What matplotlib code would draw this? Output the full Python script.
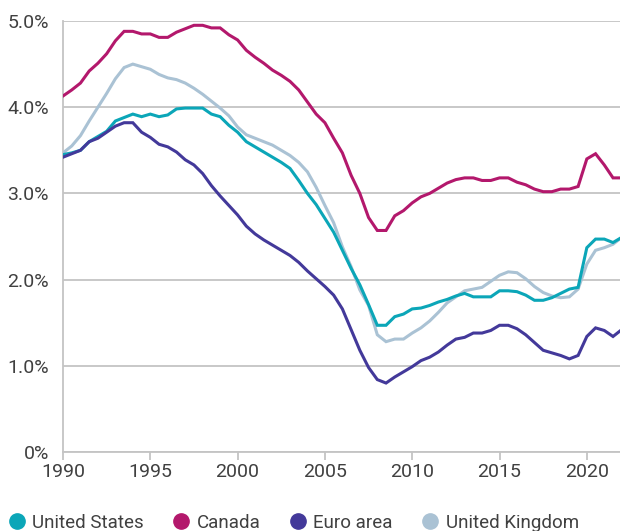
import numpy as np
import matplotlib
matplotlib.use('Agg')
import matplotlib.pyplot as plt
from matplotlib.lines import Line2D
from matplotlib.ticker import FuncFormatter

# half-yearly points, 1990 to 2022
years = np.arange(1990, 2022.01, 0.5)

united_states = [3.45, 3.47, 3.50, 3.60, 3.66, 3.72, 3.84, 3.88, 3.92, 3.89,
                 3.92, 3.89, 3.91, 3.98, 3.99, 3.99, 3.99, 3.92, 3.89, 3.79,
                 3.71, 3.60, 3.54, 3.48, 3.42, 3.36, 3.29, 3.15, 3.00, 2.87,
                 2.71, 2.55, 2.34, 2.13, 1.94, 1.71, 1.47, 1.47, 1.57, 1.60,
                 1.66, 1.67, 1.70, 1.74, 1.77, 1.81, 1.84, 1.80, 1.80, 1.80,
                 1.87, 1.87, 1.86, 1.82, 1.76, 1.76, 1.79, 1.84, 1.89, 1.91,
                 2.37, 2.47, 2.47, 2.43, 2.49]

canada = [4.13, 4.20, 4.28, 4.42, 4.51, 4.62, 4.77, 4.88, 4.88, 4.85,
          4.85, 4.81, 4.81, 4.87, 4.91, 4.95, 4.95, 4.92, 4.92, 4.84,
          4.78, 4.66, 4.58, 4.51, 4.43, 4.37, 4.30, 4.20, 4.06, 3.92,
          3.82, 3.64, 3.47, 3.21, 3.00, 2.72, 2.57, 2.57, 2.74, 2.80,
          2.89, 2.96, 3.00, 3.06, 3.12, 3.16, 3.18, 3.18, 3.15, 3.15,
          3.18, 3.18, 3.13, 3.10, 3.05, 3.02, 3.02, 3.05, 3.05, 3.08,
          3.40, 3.46, 3.33, 3.18, 3.18]

euro_area = [3.42, 3.46, 3.50, 3.60, 3.64, 3.71, 3.78, 3.82, 3.82, 3.71,
             3.65, 3.57, 3.54, 3.48, 3.39, 3.33, 3.23, 3.09, 2.97, 2.86,
             2.75, 2.62, 2.53, 2.46, 2.40, 2.34, 2.28, 2.20, 2.10, 2.01,
             1.92, 1.82, 1.66, 1.42, 1.18, 0.98, 0.84, 0.80, 0.87, 0.93,
             0.99, 1.06, 1.10, 1.16, 1.24, 1.31, 1.33, 1.38, 1.38, 1.41,
             1.47, 1.47, 1.43, 1.36, 1.27, 1.18, 1.15, 1.12, 1.08, 1.12,
             1.34, 1.44, 1.41, 1.34, 1.42]

united_kingdom = [3.47, 3.55, 3.67, 3.84, 4.00, 4.16, 4.33, 4.46, 4.50, 4.47,
                  4.44, 4.38, 4.34, 4.32, 4.28, 4.22, 4.15, 4.07, 3.99, 3.90,
                  3.77, 3.68, 3.64, 3.60, 3.56, 3.50, 3.44, 3.36, 3.25, 3.07,
                  2.86, 2.66, 2.38, 2.15, 1.88, 1.70, 1.36, 1.28, 1.31, 1.31,
                  1.38, 1.44, 1.52, 1.62, 1.73, 1.80, 1.87, 1.89, 1.91, 1.98,
                  2.05, 2.09, 2.08, 2.01, 1.92, 1.85, 1.81, 1.79, 1.80, 1.89,
                  2.18, 2.34, 2.37, 2.41, 2.49]

labels = ['United States', 'Canada', 'Euro area', 'United Kingdom']
colors = ['#0ba6b8', '#b3186c', '#43399a', '#aac2d4']

plt.rcParams['font.family'] = ['Roboto', 'DejaVu Sans']
txt_col = '#404040'

fig = plt.figure(figsize=(6.2, 5.31), dpi=100)
ax = fig.add_axes([63 / 620, 1 - 452 / 531, 1 - 63 / 620, (452 - 21) / 531])

series = [united_states, canada, euro_area, united_kingdom]
# draw UK first so it sits underneath like in the original
order = [3, 0, 1, 2]
for i in order:
    ax.plot(years, series[i], color=colors[i], lw=2.2, solid_joinstyle='miter', zorder=3)

ax.set_xlim(1990, 2021.9)
ax.set_ylim(0, 5.0)
ax.set_yticks([0, 1, 2, 3, 4, 5])
ax.yaxis.set_major_formatter(FuncFormatter(lambda v, p: '0%' if v == 0 else '%.1f%%' % v))
ax.set_xticks([1990, 1995, 2000, 2005, 2010, 2015, 2020])

grid_col = '#c4c4c4'
ax.grid(axis='y', color=grid_col, lw=1.3, zorder=1)
ax.set_axisbelow(True)
for s in ['top', 'right']:
    ax.spines[s].set_visible(False)
for s in ['left', 'bottom']:
    ax.spines[s].set_color(grid_col)
    ax.spines[s].set_linewidth(1.3)

ax.tick_params(axis='y', length=0, pad=10, labelsize=14, labelcolor=txt_col)
ax.tick_params(axis='x', length=6, width=1.3, color=grid_col, pad=2,
               labelsize=14, labelcolor=txt_col)

handles = [Line2D([], [], marker='o', ls='none', color=c, markersize=11) for c in colors]
leg = fig.legend(handles, labels, loc='center left', bbox_to_anchor=(9 / 620, 0.016),
                 ncol=4, frameon=False, handlelength=0.8, handletextpad=0.42,
                 columnspacing=1.6, borderpad=0, borderaxespad=0,
                 prop={'size': 13.5})
for t in leg.get_texts():
    t.set_color(txt_col)

fig.savefig('out.png', dpi=100)
